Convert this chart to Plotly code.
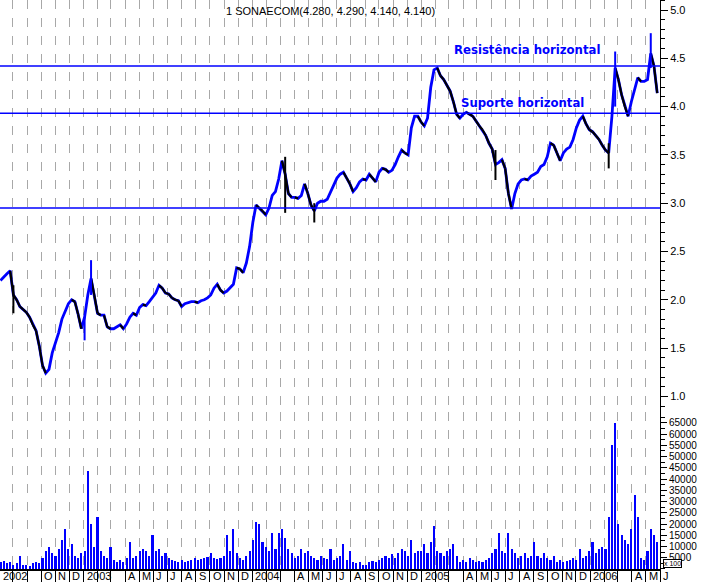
import pandas as pd
import plotly.graph_objects as go

# ---------------- data (weekly) ----------------
start_week = "2002-07-05"
close = [
    2.20, 2.24, 2.27, 2.30, 2.05, 2.00, 1.93, 1.90, 1.87, 1.82,
    1.74, 1.68, 1.52, 1.32, 1.24, 1.28, 1.45, 1.55, 1.66, 1.80,
    1.88, 1.96, 2.00, 1.98, 1.85, 1.70, 1.82, 2.05, 2.22, 2.05,
    1.86, 1.84, 1.84, 1.72, 1.70, 1.70, 1.72, 1.74, 1.70, 1.75,
    1.82, 1.86, 1.84, 1.92, 1.95, 1.94, 1.98, 2.03, 2.07, 2.15,
    2.12, 2.07, 2.06, 2.02, 2.00, 1.99, 1.93, 1.96, 1.97, 1.98,
    1.98, 1.97, 1.99, 2.00, 2.02, 2.05, 2.12, 2.16, 2.10, 2.07,
    2.09, 2.12, 2.16, 2.33, 2.32, 2.28, 2.38, 2.55, 2.80, 2.98,
    2.95, 2.92, 2.88, 2.95, 3.08, 3.12, 3.25, 3.44, 3.30, 3.10,
    3.06, 3.06, 3.05, 3.08, 3.20, 3.10, 2.98, 2.92, 3.00, 3.02,
    3.02, 3.04, 3.12, 3.20, 3.26, 3.30, 3.32, 3.26, 3.20, 3.12,
    3.16, 3.22, 3.25, 3.24, 3.30, 3.26, 3.22, 3.32, 3.36, 3.35,
    3.32, 3.34, 3.40, 3.48, 3.55, 3.52, 3.50, 3.78, 3.90, 3.90,
    3.84, 3.80, 3.88, 4.20, 4.38, 4.40, 4.32, 4.28, 4.22, 4.16,
    4.05, 3.92, 3.88, 3.92, 3.94, 3.92, 3.90, 3.85, 3.80, 3.76,
    3.70, 3.62, 3.56, 3.40, 3.42, 3.45, 3.36, 3.10, 2.94, 3.10,
    3.20, 3.24, 3.25, 3.24, 3.28, 3.30, 3.32, 3.38, 3.40, 3.48,
    3.62, 3.60, 3.52, 3.44, 3.52, 3.56, 3.58, 3.66, 3.78, 3.86,
    3.90, 3.82, 3.76, 3.74, 3.70, 3.66, 3.60, 3.55, 3.52, 3.90,
    4.40, 4.28, 4.12, 4.00, 3.90, 4.05, 4.18, 4.30, 4.26, 4.26,
    4.28, 4.55, 4.42, 4.14,
]
volume = [  # x 100
    3000, 3500, 2500, 3000, 2000, 2500, 6000, 2000, 2000, 1500,
    2500, 3000, 2500, 5000, 8000, 10000, 7000, 6000, 9000, 13000,
    18000, 9000, 11000, 6000, 5000, 7000, 8000, 43500, 20000, 10000,
    23000, 8000, 6000, 5000, 10000, 4000, 3000, 4000, 3000, 5000,
    12000, 5000, 6000, 8000, 9000, 8000, 6000, 15000, 8000, 9000,
    6000, 7000, 5000, 4000, 3500, 3000, 4000, 3000, 3500, 4000,
    5000, 4000, 4500, 5000, 5500, 7000, 5000, 4500, 5000, 6000,
    15000, 8000, 18000, 7000, 5000, 4000, 6000, 8000, 13000, 21000,
    20000, 12000, 10000, 8000, 16000, 9000, 16000, 18000, 14000, 9000,
    7000, 5000, 6000, 9000, 7000, 8000, 6000, 5000, 4000, 6000,
    5000, 4500, 9000, 4000, 5000, 6000, 11000, 4000, 8000, 3000,
    2500, 3000, 2000, 2000, 3000, 3500, 3000, 4000, 5000, 6000,
    5000, 6500, 5000, 7000, 9000, 8000, 6000, 13000, 7000, 8000,
    8000, 11000, 7000, 12000, 19000, 8000, 7000, 6000, 8000, 9000,
    11000, 6000, 3000, 4000, 3000, 5000, 4000, 3000, 3500, 3000,
    4000, 5000, 7000, 9000, 16000, 8000, 7000, 16000, 9000, 7000,
    5000, 6000, 7000, 5000, 6000, 12000, 6000, 5000, 7000, 5000,
    4000, 6000, 3000, 4000, 3000, 3500, 4000, 5000, 4000, 9000,
    5000, 6000, 8000, 12000, 7000, 9000, 10000, 9000, 23000, 55000,
    65000, 20000, 15000, 13000, 11000, 18000, 33000, 23000, 5000, 4000,
    8000, 18000, 15000, 12000,
]
# intraweek extremes that stand out (week index, low, high)
wick_week = [4, 26, 28, 88, 97, 153, 188, 190, 201]
wick_low = [1.86, 1.58, 2.05, 2.90, 2.80, 3.24, 3.36, 4.00, 4.40]
wick_high = [2.15, 1.82, 2.41, 3.48, 3.00, 3.55, 3.62, 4.57, 4.76]

resistance_level = 4.42
support_level = 3.93
lower_level = 2.95

title_text = "1 SONAECOM(4.280, 4.290, 4.140, 4.140)"

month_starts = pd.date_range("2002-07-01", "2006-06-01", freq="MS")
month_labels = [
    "2002", "", "", "O", "N", "D",
    "2003", "", "", "A", "M", "J", "J", "A", "S", "O", "N", "D",
    "2004", "", "", "A", "M", "J", "J", "A", "S", "O", "N", "D",
    "2005", "", "", "A", "M", "J", "J", "A", "S", "O", "N", "D",
    "2006", "", "", "A", "M", "J",
]
price_ticks = [1.0, 1.5, 2.0, 2.5, 3.0, 3.5, 4.0, 4.5, 5.0]
volume_ticks = [5000, 10000, 15000, 20000, 25000, 30000, 35000, 40000,
                45000, 50000, 55000, 60000, 65000]

# ---------------- figure ----------------
dates = pd.date_range(start_week, periods=len(close), freq="7D")
BLUE = "#0000ff"
xrange = ["2002-07-04", "2006-06-01"]

fig = go.Figure()

# volume bars
fig.add_trace(go.Bar(x=dates, y=volume, marker=dict(color=BLUE, line=dict(width=0)),
                     width=4.6 * 86400000, xaxis="x2", yaxis="y2", hoverinfo="skip"))

# price line (blue), with declines overdrawn in black
fig.add_trace(go.Scatter(x=dates, y=close, mode="lines",
                         line=dict(color=BLUE, width=2.8), xaxis="x", yaxis="y"))
dx, dy = [], []
for i in range(1, len(close)):
    if close[i] < close[i - 1]:
        dx += [dates[i - 1], dates[i], None]
        dy += [close[i - 1], close[i], None]
fig.add_trace(go.Scatter(x=dx, y=dy, mode="lines",
                         line=dict(color="black", width=2.2), xaxis="x", yaxis="y"))
# wicks
wx_b, wy_b, wx_k, wy_k = [], [], [], []
for w, lo, hi in zip(wick_week, wick_low, wick_high):
    if w > 0 and close[w] < close[w - 1]:
        wx_k += [dates[w], dates[w], None]
        wy_k += [lo, hi, None]
    else:
        wx_b += [dates[w], dates[w], None]
        wy_b += [lo, hi, None]
fig.add_trace(go.Scatter(x=wx_b, y=wy_b, mode="lines", line=dict(color=BLUE, width=2),
                         xaxis="x", yaxis="y"))
fig.add_trace(go.Scatter(x=wx_k, y=wy_k, mode="lines", line=dict(color="black", width=2),
                         xaxis="x", yaxis="y"))

# horizontal support / resistance lines
for lvl in (resistance_level, support_level, lower_level):
    fig.add_shape(type="line", xref="paper", x0=0, x1=1, yref="y", y0=lvl, y1=lvl,
                  line=dict(color=BLUE, width=1.5))

grid = dict(showgrid=True, gridcolor="#a8a8a8", gridwidth=1, griddash="dash",
            tickvals=list(month_starts), range=xrange, type="date", automargin=False)
split = 0.276

fig.update_layout(
    width=707, height=582,
    margin=dict(l=0, r=47, t=0, b=13, autoexpand=False),
    paper_bgcolor="white", plot_bgcolor="white",
    showlegend=False,
    bargap=0,
    font=dict(family="Liberation Sans, Arial, sans-serif", size=11, color="black"),
    xaxis=dict(domain=[0, 1], anchor="y", showticklabels=False, ticks="",
               matches="x2", **grid),
    xaxis2=dict(domain=[0, 1], anchor="y2", showticklabels=False, ticks="outside",
                ticklen=13, tickcolor="black", tickwidth=1,
                showline=True, linecolor="black", linewidth=2, **grid),
    yaxis=dict(domain=[split, 1], anchor="x", side="right", range=[0.8385, 5.1035],
               automargin=False,
               tickvals=price_ticks, tickformat=".1f", ticks="outside", ticklen=7,
               tickcolor="black", showgrid=False, zeroline=False,
               showline=True, linecolor="black", linewidth=1,
               tickfont=dict(size=11),
               minor=dict(dtick=0.1, tick0=0, ticks="outside", ticklen=4, tickcolor="black",
                          showgrid=False)),
    yaxis2=dict(domain=[0, split], anchor="x2", side="right", range=[0, 69800],
                automargin=False,
                tickvals=volume_ticks, tickformat="d", ticks="outside", ticklen=6,
                tickcolor="black", showgrid=False, zeroline=False,
                showline=True, linecolor="black", linewidth=1,
                tickfont=dict(size=10),
                minor=dict(dtick=2500, tick0=0, ticks="outside", ticklen=4, tickcolor="black",
                           showgrid=False)),
)

NARROW = "Liberation Sans Narrow, Arial Narrow, DejaVu Sans Condensed, sans-serif"
annotations = [
    dict(text=title_text, xref="paper", yref="paper", x=0.5, y=1, yshift=-3,
         xanchor="center", yanchor="top", showarrow=False,
         font=dict(size=11, color="black")),
    dict(text="<b>Resistência horizontal</b>", xref="x", yref="y",
         x="2005-03-09", y=4.595, xanchor="left", yanchor="middle", showarrow=False,
         font=dict(family=NARROW, size=13, color=BLUE)),
    dict(text="<b>Suporte horizontal</b>", xref="x", yref="y",
         x="2005-03-23", y=4.04, xanchor="left", yanchor="middle", showarrow=False,
         font=dict(family=NARROW, size=13, color=BLUE)),
    dict(text="x 100", xref="paper", yref="y2", x=1, y=5000, xshift=3, yshift=-6,
         xanchor="left", yanchor="middle", showarrow=False, bordercolor="black",
         borderwidth=1, borderpad=0, bgcolor="white", font=dict(size=7, color="black")),
]
x_start = pd.Timestamp(xrange[0])
for d, lab in zip(month_starts, month_labels):
    if lab:
        annotations.append(dict(text=lab, xref="x2", yref="paper", x=max(d, x_start), y=0,
                                xanchor="left", yanchor="bottom", xshift=1, yshift=-15,
                                showarrow=False, font=dict(size=11, color="black")))
fig.update_layout(annotations=annotations)

fig.write_html("out.html", config={"displayModeBar": False},
               post_script="document.body.style.margin='0px';")
